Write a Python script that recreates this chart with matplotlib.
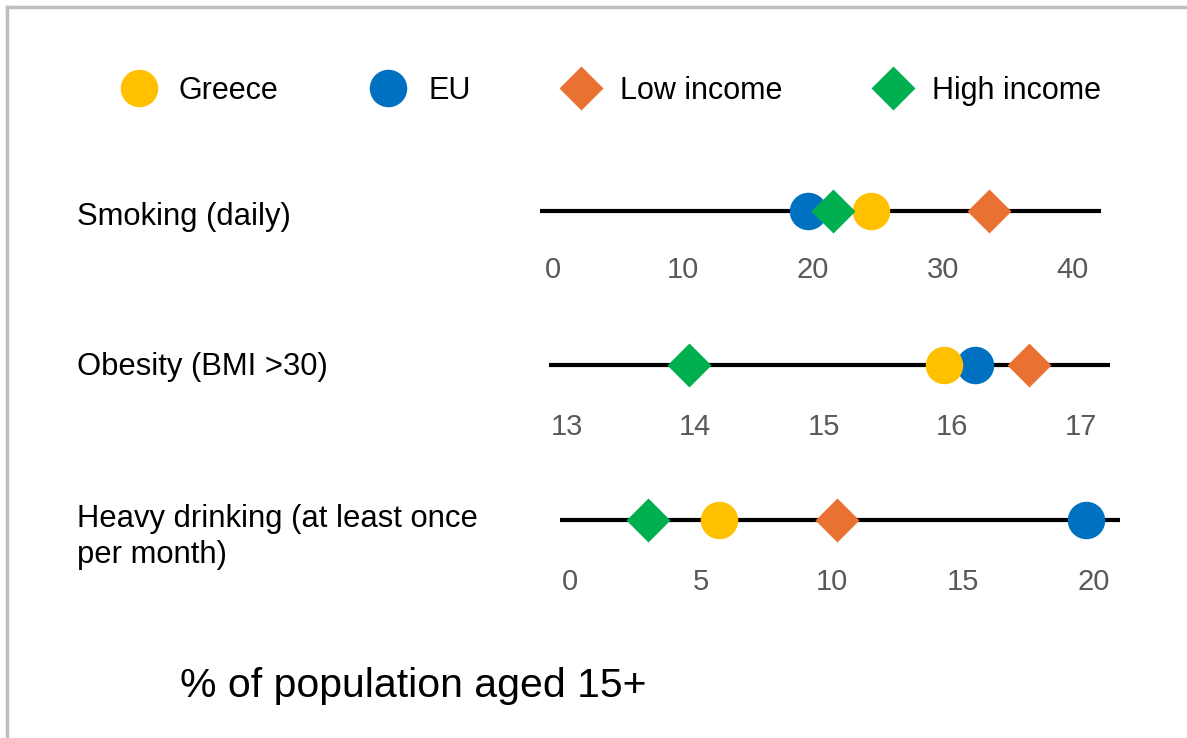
import matplotlib.pyplot as plt
from matplotlib.lines import Line2D

plt.rcParams['font.family'] = ['Liberation Sans', 'DejaVu Sans']

# Indicator rows and their axis tick values
rows = ['Smoking (daily)', 'Obesity (BMI >30)', 'Heavy drinking (at least once\nper month)']
row_ticks = [[0, 10, 20, 30, 40], [13, 14, 15, 16, 17], [0, 5, 10, 15, 20]]
row_limits = [(-1.0, 42.2), (12.86, 17.23), (-0.36, 21.0)]

# % of population aged 15+
greece = [24.5, 15.94, 5.7]
eu = [19.6, 16.18, 19.7]
low_income = [33.6, 16.6, 10.2]
high_income = [21.6, 13.95, 3.0]

series = [
    ('EU', eu, 'o', '#0070C0'),
    ('Greece', greece, 'o', '#FFC000'),
    ('Low income', low_income, 'D', '#E97132'),
    ('High income', high_income, 'D', '#00B050'),
]
legend_order = ['Greece', 'EU', 'Low income', 'High income']

W, H = 1187, 738
fig = plt.figure(figsize=(W / 100, H / 100), dpi=100)


def fx(px):
    return px / W


def fy(py):
    return 1 - py / H


# pixel placement of each row's line: left, right, y
line_px = [(540, 1101, 211), (549, 1110, 365), (560, 1120, 520)]
label_y = [217, 367, 537]
tick_pad = [22, 24, 24]

handles = {}
axh = 0.04
for i, name in enumerate(rows):
    x0, x1, yl = line_px[i]
    ax = fig.add_axes([fx(x0), fy(yl) - axh / 2, fx(x1 - x0), axh])
    ax.patch.set_visible(False)
    ax.set_xlim(*row_limits[i])
    ax.set_ylim(-1, 1)
    ax.axhline(0, color='black', lw=3, solid_capstyle='round', zorder=1)
    for z, (lab, vals, mk, col) in enumerate(series):
        ms = 27 if mk == 'o' else 22.5
        h, = ax.plot([vals[i]], [0], ls='none', marker=mk, ms=ms, color=col,
                     mec='none', clip_on=False, zorder=2 + z, label=lab)
        handles[lab] = h
    for s in ax.spines.values():
        s.set_visible(False)
    ax.set_yticks([])
    ax.set_xticks(row_ticks[i])
    ax.tick_params(axis='x', length=0, pad=tick_pad[i], labelsize=21,
                   labelcolor='#595959')
    fig.text(fx(77), fy(label_y[i]), name, ha='left', va='center', fontsize=22.3,
             color='black', linespacing=1.22)

fig.legend([handles[k] for k in legend_order], legend_order, loc='center',
           bbox_to_anchor=(fx(611), fy(91)), ncol=4, frameon=False, fontsize=22,
           handlelength=1.2, handletextpad=0.7, columnspacing=3.0, borderpad=0)

fig.text(fx(180), fy(686), '% of population aged 15+', ha='left', va='center',
         fontsize=29.5, color='black')

# light grey frame along the top and left edges
fig.add_artist(Line2D([fx(7), 1], [fy(7), fy(7)], color='#BFBFBF', lw=2.5))
fig.add_artist(Line2D([fx(7), fx(7)], [fy(7), 0], color='#BFBFBF', lw=2.5))

fig.savefig('out.png', dpi=100)
